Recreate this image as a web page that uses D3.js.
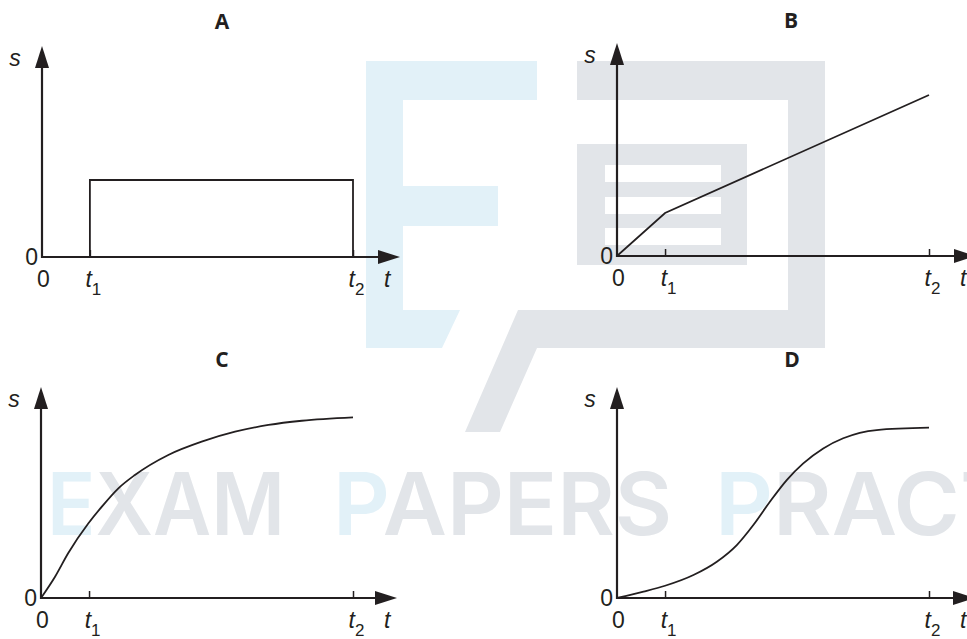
<!DOCTYPE html>
<meta charset="utf-8">
<style>

body { margin: 0; background: #fff; }
svg { display: block; }

.axis-line {
  fill: none;
  stroke: #231f20;
  stroke-width: 2.2px;
}

path.curve {
  fill: none;
  stroke: #231f20;
  stroke-width: 1.8px;
}

.lbl {
  font-family: "Liberation Sans", Arial, sans-serif;
  font-size: 23px;
  fill: #231f20;
}

.title {
  font-family: "Open Sans", sans-serif;
  font-weight: 700;
  font-size: 21px;
  fill: #231f20;
  text-anchor: middle;
}

.wm {
  font-family: Inter, sans-serif;
  font-weight: 600;
  font-size: 86px;
}

</style>

<body>
<div id="chart"></div>
</body>

<script src="https://d3js.org/d3.v7.min.js"></script>
<script>

// time in units of t2, displacement as a fraction of the axis height
var tTicks = [0, 0.154, 1];
var tickNames = ["0", "1", "2"];

var aT = [0.154, 0.154, 1, 1],
    aS = [0, 0.365, 0.365, 0];

var bT = [0, 0.154, 1],
    bS = [0, 0.202, 0.756];

var cT = [0, 0.045, 0.087, 0.152, 0.195, 0.248, 0.301, 0.408, 0.515, 0.622, 0.729, 0.836, 1],
    cS = [0, 0.101, 0.212, 0.354, 0.433, 0.520, 0.583, 0.678, 0.741, 0.788, 0.820, 0.840, 0.856];

var dT = [0, 0.085, 0.154, 0.245, 0.320, 0.384, 0.437, 0.490, 0.544, 0.597, 0.661, 0.725, 0.832, 1],
    dS = [0, 0.030, 0.058, 0.109, 0.172, 0.251, 0.346, 0.456, 0.559, 0.638, 0.709, 0.757, 0.796, 0.807];

var width = 967, height = 639;

var panels = [
  {name: "A", ox: 42,  oy: 257, top: 46,  t2x: 353, tipx: 400, titleX: 222, titleY: 29,  t: aT, s: aS, curve: d3.curveLinear},
  {name: "B", ox: 617, oy: 256, top: 43,  t2x: 929, tipx: 976, titleX: 791, titleY: 28,  t: bT, s: bS, curve: d3.curveLinear},
  {name: "C", ox: 41,  oy: 598, top: 387, t2x: 353, tipx: 397, titleX: 222, titleY: 367, t: cT, s: cS, curve: d3.curveMonotoneX},
  {name: "D", ox: 617, oy: 598, top: 387, t2x: 929, tipx: 975, titleX: 792, titleY: 367, t: dT, s: dS, curve: d3.curveMonotoneX}
];

var svg = d3.select("#chart").append("svg")
    .attr("width", width)
    .attr("height", height);

// arrow heads for the axes
svg.append("defs").append("marker")
    .attr("id", "arrow")
    .attr("viewBox", "0 0 22 14")
    .attr("refX", 12)
    .attr("refY", 7)
    .attr("markerWidth", 22)
    .attr("markerHeight", 14)
    .attr("markerUnits", "userSpaceOnUse")
    .attr("orient", "auto")
  .append("path")
    .attr("d", "M0,0L22,7L0,14Z")
    .attr("fill", "#231f20");

// watermark behind everything
var blue = "#e2f1f8", grey = "#e2e5e9";
var wm = svg.append("g").attr("class", "watermark");

wm.append("polygon")
    .attr("fill", blue)
    .attr("points", "366,61 537,61 537,100 403,100 403,186 498,186 498,226 403,226 403,310 460,310 442,348 366,348");
wm.append("polygon")
    .attr("fill", grey)
    .attr("points", "577,61 825,61 825,348 537,348 500,432 465,432 518,310 788,310 788,100 577,100");
wm.append("rect")
    .attr("fill", grey)
    .attr("x", 577).attr("y", 144).attr("width", 170).attr("height", 121);
[165, 197, 228].forEach(function(yy) {
  wm.append("rect")
      .attr("fill", "#fff")
      .attr("x", 605).attr("y", yy).attr("width", 116).attr("height", 17);
});

var words = [
  {first: "E", rest: "XAM", x: 47, len: 238},
  {first: "P", rest: "APERS", x: 333, len: 339},
  {first: "P", rest: "RACTICE", x: 715, len: 450}
];
words.forEach(function(w) {
  var txt = wm.append("text")
      .attr("class", "wm")
      .attr("x", w.x)
      .attr("y", 535)
      .attr("textLength", w.len)
      .attr("lengthAdjust", "spacingAndGlyphs");
  txt.append("tspan").attr("fill", blue).text(w.first);
  txt.append("tspan").attr("fill", grey).text(w.rest);
});

panels.forEach(function(p) {
  var x = d3.scaleLinear().domain([0, 1]).range([p.ox, p.t2x]),
      y = d3.scaleLinear().domain([0, 1]).range([p.oy, p.top]);

  var g = svg.append("g").attr("class", "panel");

  g.append("text")
      .attr("class", "title")
      .attr("x", p.titleX)
      .attr("y", p.titleY)
      .text(p.name);

  // ticks and tick labels
  var xAxis = d3.axisBottom(x).tickValues(tTicks).tickSizeInner(-7).tickSizeOuter(0);
  var gx = g.append("g")
      .attr("transform", "translate(0," + p.oy + ")")
      .call(xAxis)
      .attr("font-size", null)
      .attr("font-family", null)
      .attr("color", "#231f20");
  gx.select(".domain").remove();
  gx.selectAll(".tick line").attr("stroke-width", 1.5)
    .filter(function(d) { return d === 0; }).remove();
  gx.selectAll(".tick text")
      .attr("class", "lbl")
      .attr("y", 30)
      .attr("dy", null)
      .each(function(d, i) {
        var t = d3.select(this).text(null);
        if (i === 0) { t.attr("x", 1).text(tickNames[i]); return; }
        t.attr("x", 3);
        t.append("tspan").attr("font-style", "italic").text("t");
        t.append("tspan").attr("font-size", "17px").attr("dy", 8).text(tickNames[i]);
      });

  var gy = g.append("g")
      .attr("transform", "translate(" + p.ox + ",0)")
      .call(d3.axisLeft(y).tickValues([0]).tickFormat(d3.format("d")).tickSize(0).tickPadding(4))
      .attr("font-size", null)
      .attr("font-family", null)
      .attr("color", "#231f20");
  gy.select(".domain").remove();
  gy.selectAll(".tick text").attr("class", "lbl");

  // axes with arrows
  g.append("line")
      .attr("class", "axis-line")
      .attr("x1", p.ox - 1).attr("y1", p.oy)
      .attr("x2", p.tipx - 10).attr("y2", p.oy)
      .attr("marker-end", "url(#arrow)");
  g.append("line")
      .attr("class", "axis-line")
      .attr("x1", p.ox).attr("y1", p.oy + 1)
      .attr("x2", p.ox).attr("y2", p.top + 10)
      .attr("marker-end", "url(#arrow)");

  g.append("text")
      .attr("class", "lbl")
      .attr("font-style", "italic")
      .attr("text-anchor", "middle")
      .attr("x", p.ox - 27)
      .attr("y", p.top + 20)
      .text("s");
  g.append("text")
      .attr("class", "lbl")
      .attr("font-style", "italic")
      .attr("x", p.t2x + 31)
      .attr("y", p.oy + 30)
      .text("t");

  var line = d3.line()
      .curve(p.curve)
      .x(function(d, i) { return x(p.t[i]); })
      .y(function(d) { return y(d); });

  g.append("path")
      .attr("class", "curve")
      .attr("d", line(p.s));
});

</script>
